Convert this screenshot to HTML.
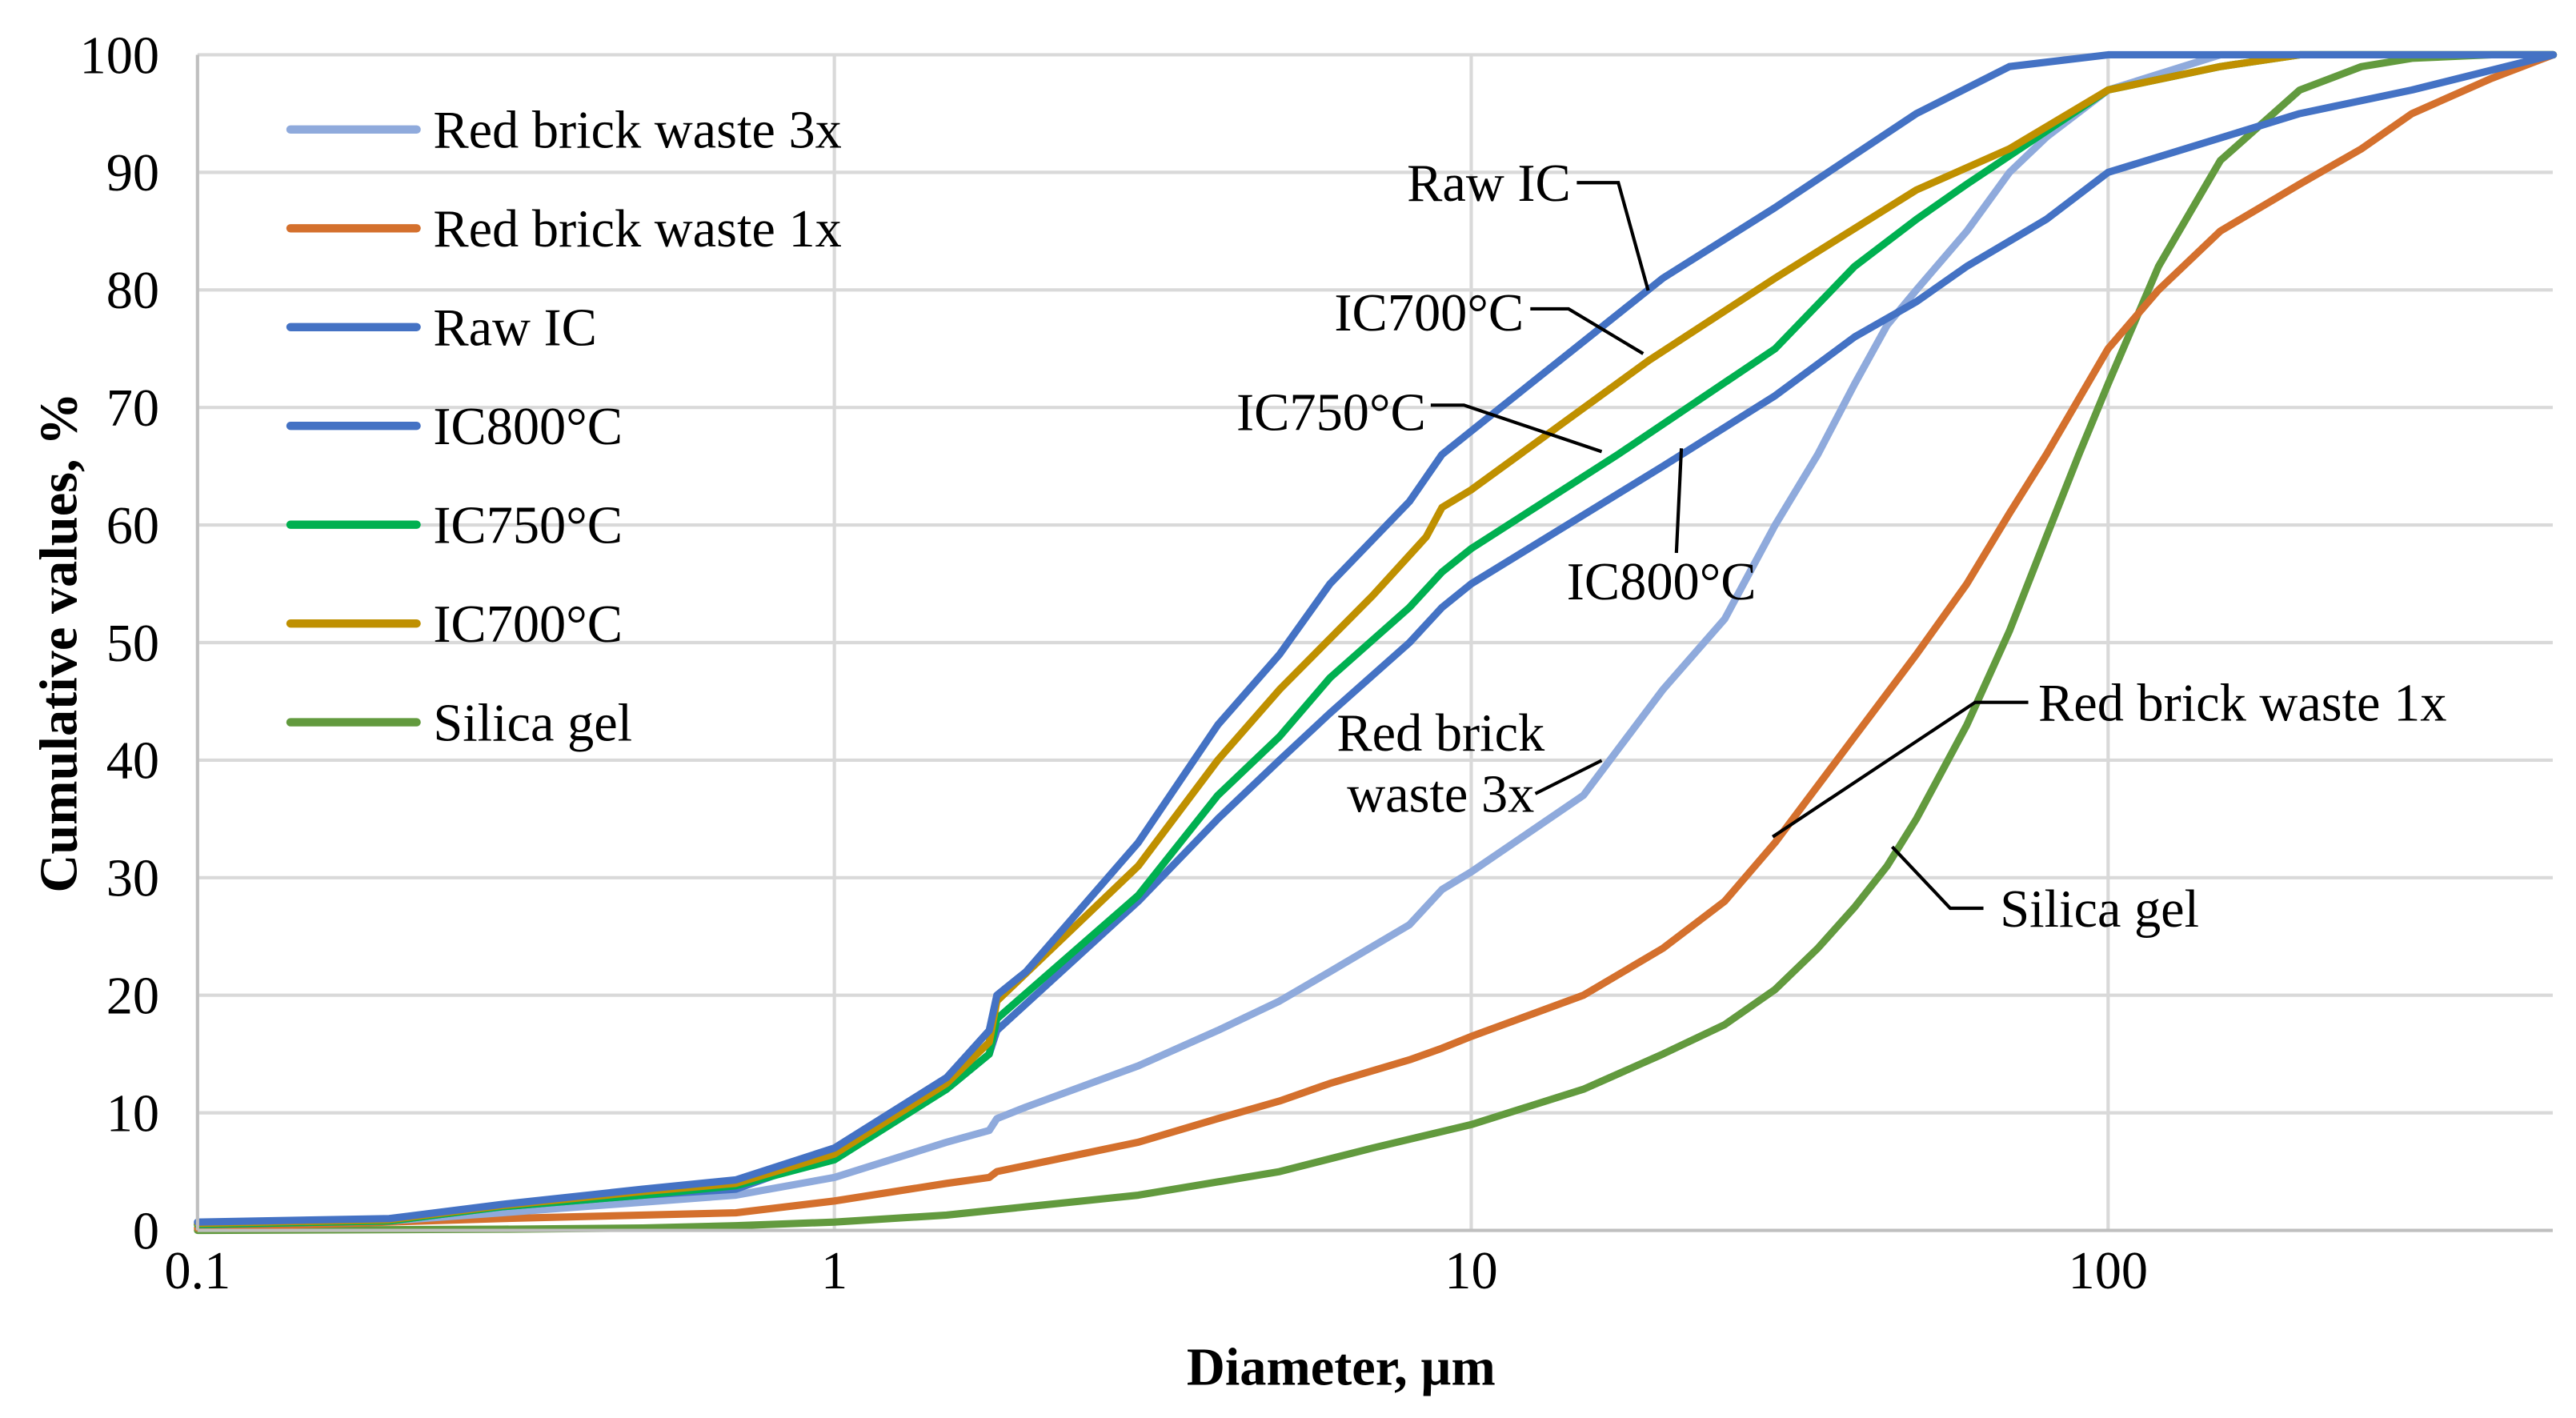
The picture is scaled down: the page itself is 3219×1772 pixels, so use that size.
<!DOCTYPE html>
<html><head><meta charset="utf-8"><style>
html,body{margin:0;padding:0;background:#fff;}
svg{display:block;}
text{font-family:"Liberation Serif",serif;fill:#000;}
</style></head><body>
<svg id="chart" width="3219" height="1772" viewBox="0 0 1552 854" preserveAspectRatio="none" xmlns="http://www.w3.org/2000/svg">
<g id="grid"></g>
<g id="series"></g>
<g id="axes"></g>
<g id="legend"></g>
<g id="annotations"></g>
</svg>
<script>
const xTicks = [0.1, 1, 10, 100];
const xTickLabels = ["0.1", "1", "10", "100"];
const yTicks = [0,10,20,30,40,50,60,70,80,90,100];
const seriesNames = ["Silica gel","Red brick waste 1x","Red brick waste 3x","IC800°C","IC750°C","IC700°C","Raw IC"];
const legendOrder = ["Red brick waste 3x","Red brick waste 1x","Raw IC","IC800°C","IC750°C","IC700°C","Silica gel"];
const colors = {"Silica gel":"#629a3e","Red brick waste 1x":"#d4702d","Red brick waste 3x":"#8faadc","IC800°C":"#4472c4","IC750°C":"#00b050","IC700°C":"#bf9000","Raw IC":"#4472c4"};
const dSilica = [0.1,0.3,0.5,0.7,1,1.5,2,3,5,7,10,15,20,25,30,35,40,45,50,60,70,80,90,100,120,150,200,250,300,400,500];
const vSilica = [0,0.1,0.2,0.4,0.7,1.3,2,3,5,7,9,12,15,17.5,20.5,24,27.5,31,35,43,51,59,66,72,82,91,97,99,99.7,100,100];
const d1x = [0.1,0.3,0.7,1,1.5,1.75,1.8,3,4,5,6,8,9,10,15,20,25,30,40,50,60,70,80,100,120,150,200,250,300,400,500];
const v1x = [0.2,1,1.5,2.5,4,4.5,5,7.5,9.5,11,12.5,14.5,15.5,16.5,20,24,28,33,42,49,55,61,66,75,80,85,89,92,95,98,100];
const d3x = [0.1,0.2,0.3,0.7,1,1.5,1.75,1.8,2,3,4,5,6,8,9,10,15,20,25,30,35,40,45,50,60,70,80,100,150,500];
const v3x = [0.5,0.8,1.5,3,4.5,7.5,8.5,9.5,10.5,14,17,19.5,22,26,29,30.5,37,46,52,60,66,72,77,80,85,90,93,97,100,100];
const d800 = [0.1,0.2,0.3,0.5,0.7,1,1.5,1.75,1.8,3,4,5,6,8,9,10,20,30,40,50,60,80,100,200,300,500];
const v800 = [0.5,0.8,2,3,3.5,6.5,12,15,17,28,35,40,44,50,53,55,65,71,76,79,82,86,90,95,97,100];
const d750 = [0.1,0.2,0.3,0.5,0.7,1,1.5,1.75,1.8,3,4,5,6,8,9,10,17,30,40,50,60,100,150,200,500];
const v750 = [0.5,0.8,2,3,3.8,6,12,15,18,28.5,37,42,47,53,56,58,66,75,82,86,89,97,99,100,100];
const d700 = [0.1,0.2,0.3,0.5,0.7,1,1.5,1.75,1.8,3,4,5,7,8.5,9,10,19,30,50,70,100,150,200,500];
const v700 = [0.6,0.9,2.1,3.3,4,6.5,12.5,16,19.5,31,40,46,54,59,61.5,63,74,81,88.5,92,97,99,100,100];
const dRaw = [0.1,0.2,0.3,0.5,0.7,1,1.5,1.75,1.8,2,3,4,5,6,8,9,10,20,30,50,70,100,500];
const vRaw = [0.7,1,2.2,3.5,4.3,7,13,17,20,22,33,43,49,55,62,66,68,81,87,95,99,100,100];
const seriesD = [dSilica,d1x,d3x,d800,d750,d700,dRaw];
const seriesV = [vSilica,v1x,v3x,v800,v750,v700,vRaw];

const X0=119, DEC=383.7, Y0=741, YU=7.08, XMAX=1538;
function sx(d){return X0+(Math.log10(d)+1)*DEC;}
function sy(v){return Y0-v*YU;}
const NS="http://www.w3.org/2000/svg";
function mk(tag,attrs,parent){const e=document.createElementNS(NS,tag);for(const k in attrs)e.setAttribute(k,attrs[k]);parent.appendChild(e);return e;}
const grid=document.getElementById('grid'), axes=document.getElementById('axes'), ser=document.getElementById('series'), leg=document.getElementById('legend'), ann=document.getElementById('annotations');
const FS=32;

yTicks.forEach(v=>{
  if(v>0){const l=mk('line',{x1:X0,x2:XMAX,y1:sy(v),y2:sy(v),stroke:'#d9d9d9','stroke-width':2},grid);
  
  }
  const t=mk('text',{x:96,y:sy(v)+11,'font-size':FS,'text-anchor':'end'},axes);t.textContent=v;
  
  
});
xTicks.forEach((d,i)=>{
  if(i>0){const l=mk('line',{x1:sx(d),x2:sx(d),y1:sy(100),y2:Y0,stroke:'#d9d9d9','stroke-width':2},grid);
  
  }
  const t=mk('text',{x:sx(d),y:776,'font-size':FS,'text-anchor':'middle'},axes);t.textContent=xTickLabels[i];
  
  
});
const ya=mk('line',{x1:X0,x2:X0,y1:sy(100),y2:Y0,stroke:'#bfbfbf','stroke-width':2},axes);


const xa=mk('line',{x1:X0,x2:XMAX,y1:Y0,y2:Y0,stroke:'#bfbfbf','stroke-width':2},axes);


const xt=mk('text',{x:808,y:834,'font-size':FS,'font-weight':'bold','text-anchor':'middle'},axes);xt.textContent='Diameter, µm';


const yt=mk('text',{x:0,y:0,'font-size':FS,'font-weight':'bold','text-anchor':'middle',transform:'translate(46,387) rotate(-90)'},axes);yt.textContent='Cumulative values, %';



seriesNames.forEach((n,i)=>{
  const pts=seriesD[i].map((d,j)=>sx(d).toFixed(1)+','+sy(seriesV[i][j]).toFixed(1)).join(' ');
  const p=mk('polyline',{points:pts,fill:'none',stroke:colors[n],'stroke-width':4.4,'stroke-linejoin':'round','stroke-linecap':'round'},ser);
  
  
});

legendOrder.forEach((n,i)=>{
  const y=78+i*59.5;
  const l=mk('line',{x1:175,x2:251,y1:y,y2:y,stroke:colors[n],'stroke-width':5,'stroke-linecap':'round'},leg);
  
  
  const t=mk('text',{x:261,y:y+11,'font-size':FS},leg);t.textContent=n;
  
  
});

const labels=[
 {t:["Raw IC"],x:897,y:121,a:'middle',pts:"950,110 975,110 993,175"},
 {t:["IC700°C"],x:861,y:199,a:'middle',pts:"922,186 945,186 990,213"},
 {t:["IC750°C"],x:802,y:259,a:'middle',pts:"862,244 882,244 965,272"},
 {t:["IC800°C"],x:1001,y:361,a:'middle',pts:"1010,333 1013,270"},
 {t:["Red brick","waste 3x"],x:868,y:452,a:'middle',pts:"925,478 965,458"},
 {t:["Red brick waste 1x"],x:1228,y:434,a:'start',pts:"1222,423 1190,423 1068,504"},
 {t:["Silica gel"],x:1205,y:558,a:'start',pts:"1195,547 1175,547 1140,510"}
];
labels.forEach(L=>{
  const pl=mk('polyline',{points:L.pts,fill:'none',stroke:'#000','stroke-width':2},ann);
  
  
  L.t.forEach((s,k)=>{
    const t=mk('text',{x:L.x,y:L.y+k*37,'font-size':FS,'text-anchor':L.a},ann);t.textContent=s;
    
    
  });
});
</script>
</body></html>
